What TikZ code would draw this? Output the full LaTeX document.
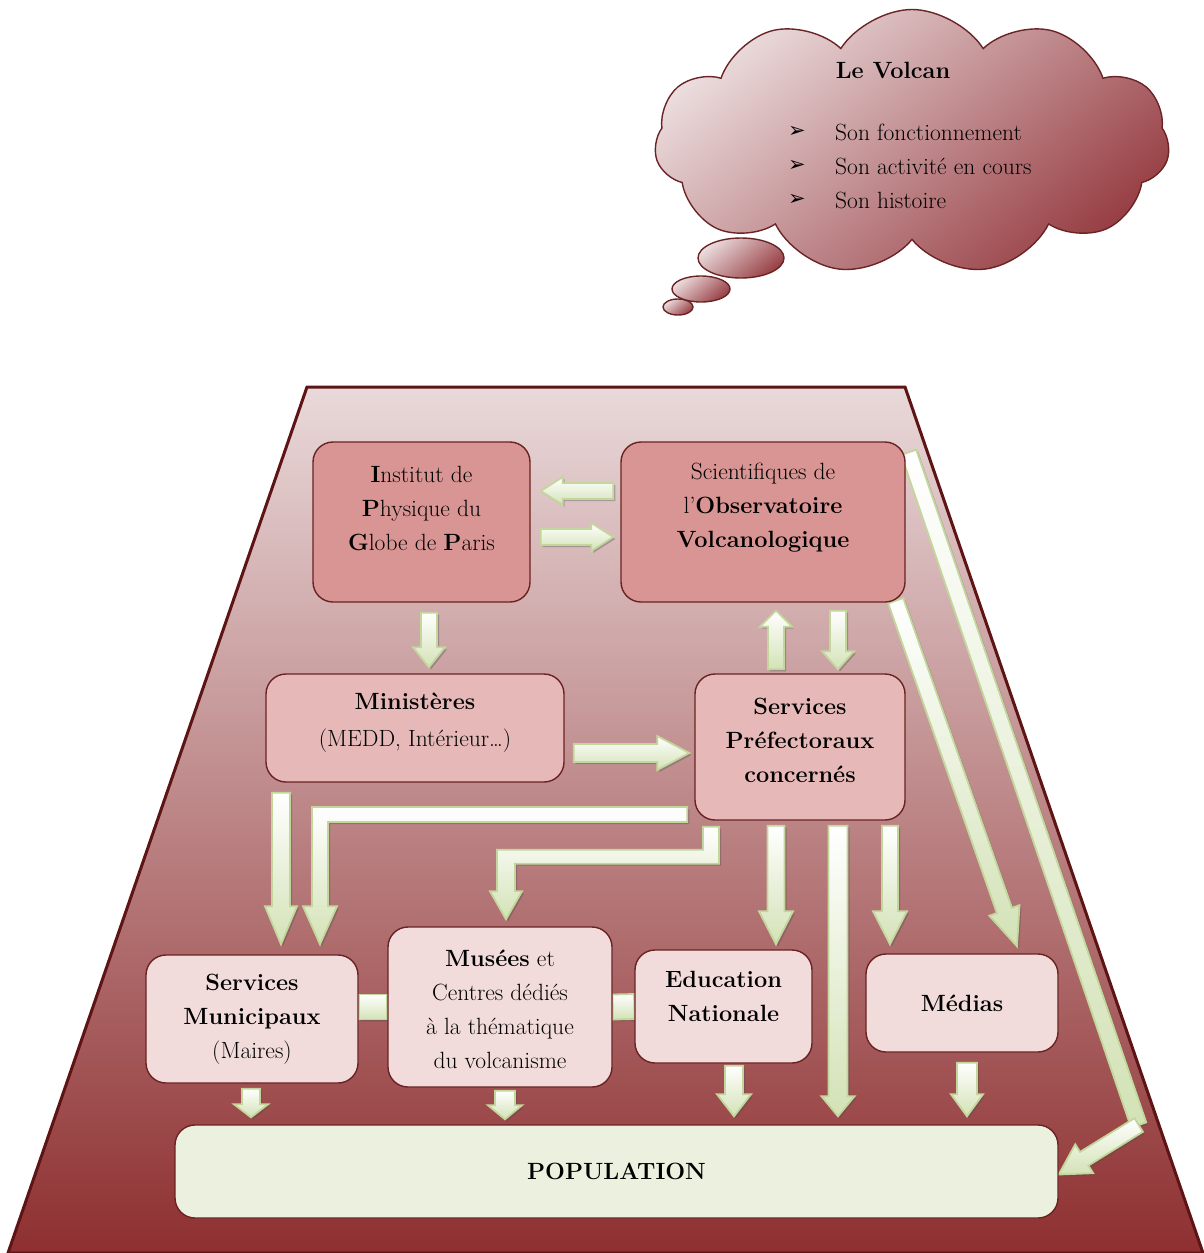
\documentclass[tikz,border=0pt]{standalone}
\usepackage{fontspec}
\newfontfamily\djv{DejaVu Sans}
\usetikzlibrary{calc,shapes.symbols,shapes.geometric,shadows,backgrounds}
\definecolor{trapTop}{HTML}{E9D9DA}
\definecolor{trapMid}{HTML}{C4999B}
\definecolor{trapBot}{HTML}{8E2F30}
\definecolor{trapLine}{HTML}{5E1414}
\definecolor{boxLine}{HTML}{6A2222}
\definecolor{fillA}{HTML}{D99594}
\definecolor{fillB}{HTML}{E6B9B8}
\definecolor{fillC}{HTML}{F2DCDB}
\definecolor{fillPop}{HTML}{EBF1DE}
\definecolor{arrLine}{HTML}{C3D69B}
\definecolor{arrFill}{HTML}{D3E2B6}
\definecolor{cloudA}{HTML}{EBDCDD}
\definecolor{cloudB}{HTML}{984045}
\definecolor{cloudLine}{HTML}{6B2426}
% point at distance #1 along and #2 across an arrow (inside let)
\newcommand{\apt}[2]{({\x1+\n2*(#1)-\n3*(#2)},{\y1+\n3*(#1)+\n2*(#2)})}
% block arrow: start, end, shaft half width, head half width, head length
\newcommand{\barrow}[5]{%
 \path[arr] let \p1=#1, \p2=#2, \n1={veclen(\x2-\x1,\y2-\y1)},
   \n2={(\x2-\x1)/\n1}, \n3={(\y2-\y1)/\n1} in
  \apt{0pt}{#3pt} -- \apt{\n1-#5pt}{#3pt} -- \apt{\n1-#5pt}{#4pt} -- \apt{\n1}{0pt}
  -- \apt{\n1-#5pt}{-#4pt} -- \apt{\n1-#5pt}{-#3pt} -- \apt{0pt}{-#3pt} -- cycle;}
\begin{document}
\begin{tikzpicture}[x=1pt,y=-1pt,
  every node/.style={font=\fontsize{23.5}{34}\selectfont, inner sep=0pt},
  box/.style={draw=boxLine, line width=1.4pt, rounded corners=20pt},
  boxA/.style={box, fill=fillA},
  boxB/.style={box, fill=fillB},
  boxC/.style={box, fill=fillC},
  txt/.style={align=center},
  bulletmk/.style={font=\djv\fontsize{21}{24}\selectfont},
  arr/.style={draw=arrLine, line width=1.8pt, line join=miter,
    top color=white, bottom color=arrFill,
    drop shadow={shadow xshift=2pt, shadow yshift=-2pt, opacity=0.35, fill=black!70}},
  bubble/.style={ellipse, draw=cloudLine, line width=1.4pt, top color=cloudA, bottom color=cloudB, shading angle=40}]
\useasboundingbox (0,0) rectangle (1203,1253);

% thought cloud
\node[bubble, minimum width=30pt, minimum height=16pt] (bub3) at (678,307) {};
\node[bubble, minimum width=58pt, minimum height=26pt] (bub2) at (701,289) {};
\node[bubble, minimum width=86pt, minimum height=40pt] (bub1) at (741,258) {};
\node[cloud, cloud puffs=11, cloud puff arc=115, cloud ignores aspect,
  minimum width=515pt, minimum height=265pt, draw=cloudLine, line width=1.4pt,
  top color=cloudA, bottom color=cloudB, shading angle=40] (cloud) at (912,142) {};
\node[font=\fontsize{23.5}{34}\selectfont\bfseries] (volcan) at (893,70) {Le Volcan};
\node[bulletmk] (m1) at (797,132) {➢};
\node[bulletmk] (m2) at (797,166) {➢};
\node[bulletmk] (m3) at (797,200) {➢};
\node[anchor=west] (l1) at (835,132) {Son fonctionnement};
\node[anchor=west] (l2) at (835,166) {Son activité en cours};
\node[anchor=west] (l3) at (835,200) {Son histoire};

% boxes
\node[boxA, minimum width=217pt, minimum height=160pt] (ipgp) at (421.5,522) {};
\node[txt] (ipgpT) at ($(ipgp.center)+(0,-14)$) {\textbf{I}nstitut de\\\textbf{P}hysique du\\\textbf{G}lobe de \textbf{P}aris};
\node[boxA, minimum width=284pt, minimum height=160pt] (obs) at (763,522) {};
\node[txt] (obsT) at ($(obs.center)+(0,-14)$) {Scientifiques de\\l’\textbf{Observatoire}\\\textbf{Volcanologique}};
\node[boxB, minimum width=298pt, minimum height=108pt] (mini) at (415,728) {};
\node[txt] (miniT) at ($(mini.center)+(0,-5)$) {\textbf{Ministères}\\[3pt](MEDD, Intérieur…)};
\node[boxB, minimum width=210pt, minimum height=146pt] (pref) at (800,747) {};
\node[txt, font=\fontsize{23.5}{34}\selectfont\bfseries] (prefT) at ($(pref.center)+(0,-7)$) {Services\\Préfectoraux\\concernés};
\node[boxC, minimum width=212pt, minimum height=128pt] (muni) at (252,1019) {};
\node[txt] (muniT) at (muni.center) {\textbf{Services}\\\textbf{Municipaux}\\(Maires)};
\node[boxC, minimum width=224pt, minimum height=160pt] (musee) at (500,1007) {};
\node[txt] (museeT) at ($(musee.center)+(0,2)$) {\textbf{Musées} et\\Centres dédiés\\à la thématique\\du volcanisme};
\node[boxC, minimum width=177pt, minimum height=113pt] (edu) at (723.5,1006.5) {};
\node[txt, font=\fontsize{23.5}{34}\selectfont\bfseries] (eduT) at ($(edu.center)+(0,-10)$) {Education\\Nationale};
\node[boxC, minimum width=192pt, minimum height=98pt] (medias) at (962,1003) {};
\node[txt, font=\fontsize{23.5}{34}\selectfont\bfseries] (mediasT) at (medias.center) {Médias};
\node[box, fill=fillPop, minimum width=883pt, minimum height=93pt] (pop) at (616.5,1171.5) {};
\node[font=\fontsize{23.5}{34}\selectfont\bfseries] (popT) at (pop.center) {POPULATION};

% connector coordinates
\coordinate (a8s) at ($(pref.west)+(-7,67.5)$);
\coordinate (a8t) at ($(muni.north)+(68,-10)$);
\coordinate (a9s) at ($(pref.south)+(-89,6)$);
\coordinate (a9t) at ($(musee.north)+(6,-7)$);
\coordinate (a14s) at ($(obs.north east)+(3,11)$);
\coordinate (a14k) at ($(pop.east)+(80,-46.5)$);
\coordinate (a14t) at ($(pop.east)+(0,3)$);

\begin{pgfonlayer}{background}
\fill[white] (0,0) rectangle (1203,1253);
\path[draw=trapLine, line width=3pt, line join=miter, top color=trapTop, middle color=trapMid, bottom color=trapBot]
  (307,387) -- (905,387) -- (1203,1253) -- (8,1253) -- cycle;

% arrows
\barrow{($(obs.west)+(-7,-31)$)}{($(ipgp.east)+(10,-31)$)}{8}{14}{22}
\barrow{($(ipgp.east)+(10,15)$)}{($(obs.west)+(-7,15)$)}{8}{14}{22}
\barrow{($(ipgp.south)+(7.5,10)$)}{($(mini.north)+(14,-6)$)}{8}{16}{20}
\barrow{($(pref.north)+(-24,-4)$)}{($(obs.south)+(13,8)$)}{8}{16}{16}
\barrow{($(obs.south)+(75,8)$)}{($(pref.north)+(38,-4)$)}{8}{16}{18}
\barrow{($(mini.east)+(9,25)$)}{($(pref.west)+(-5,6)$)}{9}{17}{32}
\barrow{($(mini.south)+(-134,10)$)}{($(muni.north)+(29,-10)$)}{9}{16}{38}
\path[arr] let \p1=(a8s), \p2=(a8t) in
  ({\x1},{\y1+7.5pt}) -- ({\x2-8pt},{\y1+7.5pt}) -- ({\x2-8pt},{\y2+38pt}) -- ({\x2-17pt},{\y2+38pt})
  -- (\p2) -- ({\x2+17pt},{\y2+38pt}) -- ({\x2+8pt},{\y2+38pt}) -- ({\x2+8pt},{\y1-7.5pt})
  -- ({\x1},{\y1-7.5pt}) -- cycle;
\path[arr] let \p1=(a9s), \p2=(a9t) in
  ({\x1-8pt},{\y1}) -- ({\x1+8pt},{\y1}) -- ({\x1+8pt},{\y1-37pt}) -- ({\x2+9pt},{\y1-37pt})
  -- ({\x2+9pt},{\y2+28pt}) -- ({\x2+16pt},{\y2+28pt}) -- (\p2) -- ({\x2-16pt},{\y2+28pt})
  -- ({\x2-9pt},{\y2+28pt}) -- ({\x2-9pt},{\y1-23pt}) -- ({\x1-8pt},{\y1-23pt}) -- cycle;
\barrow{($(pref.south)+(-24,5)$)}{($(edu.north)+(52.5,-5)$)}{8.5}{17}{33}
\barrow{($(pref.south)+(38,5)$)}{($(pop.north)+(221.5,-8)$)}{9.5}{16.5}{20}
\barrow{($(pref.south)+(90,5)$)}{($(medias.north)+(-72,-9)$)}{8}{17}{33}
\barrow{($(obs.south east)+(-10,-2)$)}{($(medias.north)+(55,-7)$)}{8}{16}{38}
\barrow{(a14s)}{(a14k)}{8}{8}{0}
\barrow{(a14k)}{(a14t)}{8}{17}{30}
\barrow{($(muni.south)+(-1,5)$)}{($(pop.north)+(-365.5,-7)$)}{9}{17}{13}
\barrow{($(musee.south)+(5,3)$)}{($(pop.north)+(-111.5,-5)$)}{10}{17}{14}
\barrow{($(edu.south)+(10.5,2)$)}{($(pop.north)+(117.5,-8)$)}{9}{17}{22}
\barrow{($(medias.south)+(5,10)$)}{($(pop.north)+(350.5,-8)$)}{10}{16}{22}
\barrow{($(muni.east)+(0,-12)$)}{(musee.west)}{12.5}{12.5}{0}
\barrow{(musee.east)}{(edu.west)}{12.5}{12.5}{0}
\end{pgfonlayer}
\end{tikzpicture}
\end{document}
